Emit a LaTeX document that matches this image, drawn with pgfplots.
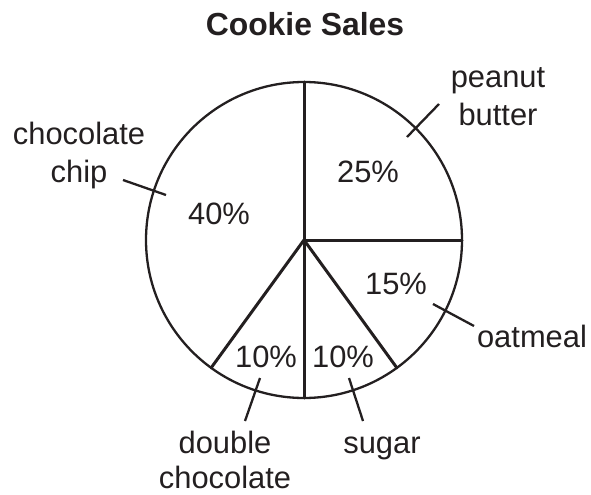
\documentclass[border=0pt]{standalone}
\usepackage{pgfplots}
\pgfplotsset{compat=1.18}
\usepackage{fontspec}
\setmainfont{Liberation Sans}
\definecolor{ink}{RGB}{35,31,32}
\begin{document}
\begin{tikzpicture}
\begin{axis}[
  hide axis, scale only axis,
  width=591bp, height=495bp,
  xmin=0, xmax=591, ymin=0, ymax=495,
  y dir=reverse, clip=false,
]
\path[draw=none] (rel axis cs:0,0) rectangle (rel axis cs:1,1);
% slice shares (percent), clockwise from 12 o'clock:
% peanut butter 25, oatmeal 15, sugar 10, double chocolate 10, chocolate chip 40
\draw[ink, line width=2.3bp] (axis cs:304,240) circle[radius=158];
\pgfplotsextra{
  \def\acc{90}
  \foreach \p in {25,15,10,10,40}{
    \draw[ink, line width=3bp, line cap=round] (axis cs:304,240) -- +(\acc:158bp);
    \pgfmathsetmacro{\newacc}{\acc-3.6*\p}
    \xdef\acc{\newacc}
  }
}
% leader lines
\draw[ink, line width=2.3bp] (axis cs:439,104) -- (axis cs:407,137);
\draw[ink, line width=2.3bp] (axis cs:123,180) -- (axis cs:166,195);
\draw[ink, line width=2.3bp] (axis cs:433,304) -- (axis cs:474,326);
\draw[ink, line width=2.3bp] (axis cs:260,378) -- (axis cs:245,421);
\draw[ink, line width=2.3bp] (axis cs:349,378) -- (axis cs:363,421);
% texts
\tikzset{lab/.style={anchor=base, text=ink, inner sep=0pt, font=\fontsize{31}{36}\selectfont}}
\node[anchor=base, text=ink, inner sep=0pt, font=\fontsize{32}{36}\selectfont\bfseries] at (axis cs:305,36) {Cookie Sales};
\node[lab] at (axis cs:498,88) {peanut};
\node[lab] at (axis cs:498,125) {butter};
\node[lab] at (axis cs:79,144) {chocolate};
\node[lab] at (axis cs:79,182) {chip};
\node[lab] at (axis cs:532,347) {oatmeal};
\node[lab] at (axis cs:225,453) {double};
\node[lab] at (axis cs:225,488) {chocolate};
\node[lab] at (axis cs:382,453) {sugar};
\node[lab] at (axis cs:368,182) {25\%};
\node[lab] at (axis cs:219,224) {40\%};
\node[lab] at (axis cs:396,294) {15\%};
\node[lab] at (axis cs:266,367) {10\%};
\node[lab] at (axis cs:343,367) {10\%};
\end{axis}
\end{tikzpicture}
\end{document}
